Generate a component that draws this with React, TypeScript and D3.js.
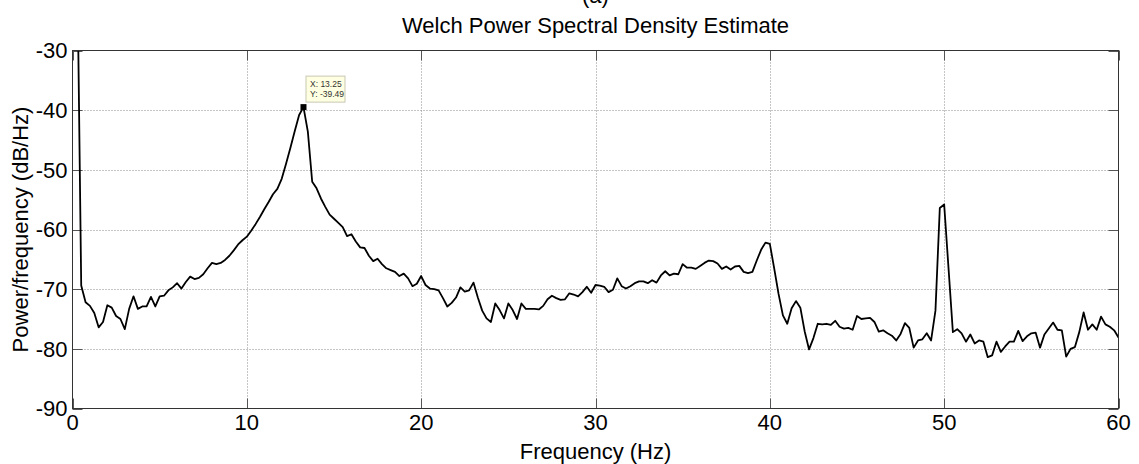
import React from "react";
import * as d3 from "d3";

// ---- data ----
const FREQ_STEP = 0.25; // Hz, Welch bin spacing
const psdDb: number[] = [
  // 0 – 4.75 Hz
  -5, -10, -69.4, -72.2, -72.8, -74.0, -76.4, -75.5, -72.7, -73.1, -74.5, -75.0, -76.7, -73.3, -71.2, -73.3, -72.9, -72.9, -71.3, -72.9,
  // 5 – 9.75
  -71.2, -71.1, -70.2, -69.7, -69.0, -69.9, -68.8, -67.9, -68.3, -68.1, -67.5, -66.5, -65.6, -65.8, -65.6, -65.1, -64.4, -63.5, -62.5, -61.8,
  // 10 – 14.75
  -61.2, -60.2, -59.1, -57.9, -56.6, -55.4, -54.1, -53.2, -51.5, -49.0, -46.3, -43.5, -40.8, -39.49, -43.6, -52.0, -53.1, -54.8, -56.2, -57.5,
  // 15 – 19.75
  -58.2, -58.9, -59.6, -61.1, -60.8, -62.0, -63.0, -63.1, -64.4, -65.3, -64.9, -65.8, -66.5, -66.8, -67.1, -67.8, -67.4, -68.2, -69.5, -69.1,
  // 20 – 24.75
  -67.8, -69.3, -69.9, -70.0, -70.2, -71.5, -72.9, -72.3, -71.4, -69.7, -70.4, -70.2, -68.9, -71.4, -73.6, -74.9, -75.5, -72.4, -73.5, -74.9,
  // 25 – 29.75
  -72.4, -73.5, -75.0, -72.4, -73.3, -73.3, -73.3, -73.4, -72.8, -71.7, -71.1, -71.5, -71.8, -71.7, -70.7, -70.9, -71.2, -70.5, -69.6, -70.6,
  // 30 – 34.75
  -69.3, -69.4, -69.6, -70.5, -70.1, -68.2, -69.5, -69.9, -69.5, -69.0, -68.7, -68.7, -69.0, -68.5, -68.9, -67.7, -67.0, -67.7, -67.4, -67.5,
  // 35 – 39.75
  -65.8, -66.4, -66.4, -66.6, -66.1, -65.6, -65.2, -65.3, -65.7, -66.6, -66.2, -66.7, -66.2, -66.1, -67.1, -67.3, -67.1, -65.2, -63.4, -62.2,
  // 40 – 44.75
  -62.4, -66.5, -70.8, -74.4, -75.8, -73.2, -72.0, -73.1, -77.1, -80.1, -78.2, -75.8, -75.9, -75.8, -76.0, -75.3, -76.3, -76.6, -76.5, -76.8,
  // 45 – 49.75
  -74.5, -75.0, -74.9, -74.8, -75.5, -77.1, -76.9, -77.4, -77.8, -78.6, -77.5, -75.7, -76.5, -79.8, -78.6, -78.4, -77.4, -78.6, -73.6, -56.4,
  // 50 – 54.75
  -55.8, -66.5, -77.2, -76.7, -77.4, -78.8, -77.6, -79.1, -78.6, -78.8, -81.4, -81.1, -78.8, -80.5, -79.6, -78.8, -78.8, -77.0, -78.7, -77.9,
  // 55 – 59.75
  -77.4, -77.3, -79.8, -77.6, -76.6, -75.6, -76.8, -76.9, -81.3, -80.0, -79.7, -77.2, -73.9, -76.8, -75.9, -76.8, -74.6, -75.9, -76.3, -76.9,
  // 60
  -78.1,
];
const xTicks = [0, 10, 20, 30, 40, 50, 60];
const yTicks = [-30, -40, -50, -60, -70, -80, -90];
const xDomain: [number, number] = [0, 60];
const yDomain: [number, number] = [-90, -30];
const datatip = { x: 13.25, y: -39.49 };

const title = "Welch Power Spectral Density Estimate";
const panelLabel = "(a)";
const xLabel = "Frequency (Hz)";
const yLabel = "Power/frequency (dB/Hz)";

// ---- layout ----
const W = 1139;
const H = 464;
const L = 72.5;
const R = 1118.5;
const T = 50.5;
const B = 408.5;
const FONT = "'Liberation Sans', Arial, Helvetica, sans-serif";

export default function App() {
  const points = psdDb.map((v, i) => ({ f: i * FREQ_STEP, v }));
  const x = d3.scaleLinear().domain(xDomain).range([L, R]);
  const y = d3.scaleLinear().domain(yDomain).range([B, T]);
  const line = d3
    .line<{ f: number; v: number }>()
    .x((d) => x(d.f))
    .y((d) => y(d.v));

  const tipX = x(datatip.x);
  const tipY = y(datatip.y);
  const tickLen = 10;

  return (
    <svg
      width={W}
      height={H}
      viewBox={`0 0 ${W} ${H}`}
      style={{ position: "absolute", left: 0, top: 0, background: "#fff" }}
    >
      <defs>
        <clipPath id="plotClip">
          <rect x={L} y={T} width={R - L} height={B - T} />
        </clipPath>
      </defs>
      <rect x={0} y={0} width={W} height={H} fill="#fff" />

      {/* grid */}
      <g stroke="#8a8a8a" strokeWidth={1} strokeDasharray="1,2">
        {xTicks
          .filter((t) => t !== xDomain[0] && t !== xDomain[1])
          .map((t) => (
            <line key={"gx" + t} x1={Math.round(x(t)) + 0.5} x2={Math.round(x(t)) + 0.5} y1={T} y2={B} />
          ))}
        {yTicks
          .filter((t) => t !== yDomain[0] && t !== yDomain[1])
          .map((t) => (
            <line key={"gy" + t} x1={L} x2={R} y1={Math.round(y(t)) + 0.5} y2={Math.round(y(t)) + 0.5} />
          ))}
      </g>

      {/* ticks */}
      <g stroke="#555" strokeWidth={1}>
        {xTicks.map((t) => {
          const px = Math.round(x(t)) + 0.5;
          return (
            <g key={"tx" + t}>
              <line x1={px} x2={px} y1={B} y2={B - tickLen} />
              <line x1={px} x2={px} y1={T} y2={T + tickLen} />
            </g>
          );
        })}
        {yTicks.map((t) => {
          const py = Math.round(y(t)) + 0.5;
          return (
            <g key={"ty" + t}>
              <line x1={L} x2={L + tickLen} y1={py} y2={py} />
              <line x1={R} x2={R - tickLen} y1={py} y2={py} />
            </g>
          );
        })}
      </g>

      {/* data */}
      <path
        d={line(points) || ""}
        fill="none"
        stroke="#000"
        strokeWidth={1.8}
        strokeLinejoin="round"
        clipPath="url(#plotClip)"
      />

      {/* axes box */}
      <rect x={L} y={T} width={R - L} height={B - T} fill="none" stroke="#333" strokeWidth={1} />

      {/* tick labels */}
      <g fontFamily={FONT} fontSize={22} fill="#000">
        {xTicks.map((t) => (
          <text key={"lx" + t} x={x(t)} y={430} textAnchor="middle">
            {t}
          </text>
        ))}
        {yTicks.map((t) => (
          <text key={"ly" + t} x={L - 5} y={y(t)} dy="0.35em" textAnchor="end">
            {t}
          </text>
        ))}
      </g>

      {/* labels */}
      <text x={(L + R) / 2} y={459} textAnchor="middle" fontFamily={FONT} fontSize={22}>
        {xLabel}
      </text>
      <text
        transform={`translate(28, ${(T + B) / 2}) rotate(-90)`}
        textAnchor="middle"
        fontFamily={FONT}
        fontSize={22}
      >
        {yLabel}
      </text>
      <text x={(L + R) / 2} y={33} textAnchor="middle" fontFamily={FONT} fontSize={22}>
        {title}
      </text>
      <text x={(L + R) / 2} y={3} textAnchor="middle" fontFamily={FONT} fontSize={22}>
        {panelLabel}
      </text>

      {/* datatip */}
      <g>
        <rect
          x={tipX + 2.5}
          y={tipY - 31}
          width={39}
          height={26}
          fill="#ffffe1"
          stroke="#c8c8b4"
          strokeWidth={1}
        />
        <text x={tipX + 6.5} y={tipY - 20} fontFamily={FONT} fontSize={8.5} fill="#333">
          {`X: ${datatip.x}`}
        </text>
        <text x={tipX + 6.5} y={tipY - 10.5} fontFamily={FONT} fontSize={8.5} fill="#333">
          {`Y: ${datatip.y}`}
        </text>
        <rect x={tipX - 3} y={tipY - 3} width={6} height={6} fill="#000" />
      </g>
    </svg>
  );
}
